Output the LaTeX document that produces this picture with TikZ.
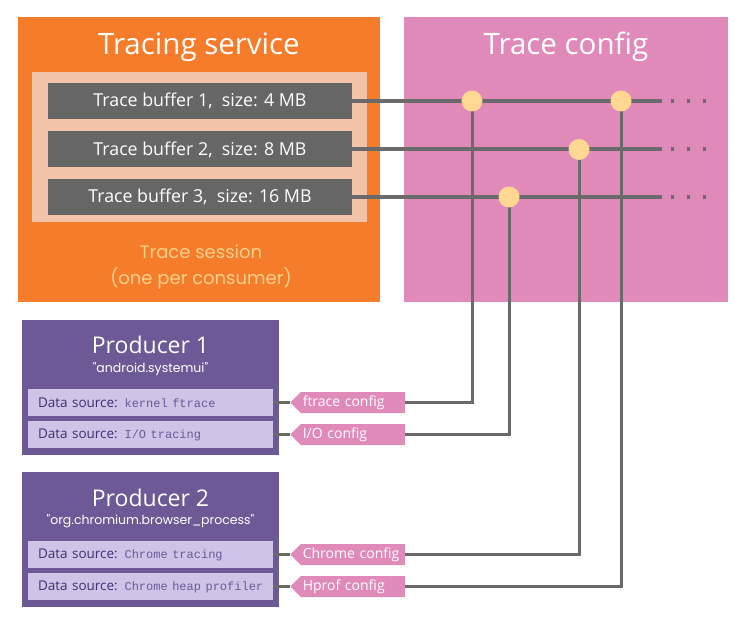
\documentclass[tikz,border=0pt]{standalone}
\usepackage{fontspec}
\setmainfont{Open Sans}
\setmonofont{Liberation Mono}
\newfontfamily\handfont{Poppins}
\usetikzlibrary{shapes.symbols,positioning}

\definecolor{serviceorange}{HTML}{F47C2B}
\definecolor{sessionpeach}{HTML}{F2C3A8}
\definecolor{sessionink}{HTML}{FDD08B}
\definecolor{buffergray}{HTML}{666666}
\definecolor{configpink}{HTML}{E08AB9}
\definecolor{knotgold}{HTML}{FED893}
\definecolor{producerpurple}{HTML}{6C5996}
\definecolor{sourcelilac}{HTML}{D0C3E8}
\definecolor{sourceink}{HTML}{3D3170}
\definecolor{wiregray}{HTML}{6A6A6A}

\newcommand{\srccode}[1]{\texttt{\fontsize{12}{14}\selectfont\color{producerpurple}#1}}

\begin{document}
\begin{tikzpicture}[x=1pt,y=-1pt,
    panel/.style={rectangle,inner sep=0},
    heading/.style={text=white,font=\fontsize{29.5}{32}\selectfont},
    buffer/.style={rectangle,fill=buffergray,text=white,minimum width=304,minimum height=36,
      font=\fontsize{17.8}{20}\selectfont},
    source/.style={rectangle,fill=sourcelilac,text=sourceink,minimum height=27,text width=225,
      inner xsep=10,align=left,font=\fontsize{13.5}{16}\selectfont},
    tag/.style={signal,signal to=west,signal pointer angle=90,fill=configpink,text=white,
      minimum height=21,text width=100,inner xsep=2,inner ysep=0,align=left,anchor=west,
      font=\fontsize{14}{16}\selectfont},
    knot/.style={circle,fill=knotgold,minimum size=21,inner sep=0},
    wire/.style={draw=wiregray,line width=4},
    link/.style={draw=wiregray,line width=3},
    trail/.style={draw=wiregray,line width=4,dash pattern=on 3 off 13},
    hand/.style={font=\handfont\fontsize{12.5}{15}\selectfont,text=white}]
  \useasboundingbox (0,0) rectangle (739,623);

  % tracing service
  \node[panel,fill=serviceorange,minimum width=362,minimum height=285] (service) at (199,159.5) {};
  \node[heading] (servicetitle) at (199,47) {Tracing service};
  \node[panel,fill=sessionpeach,minimum width=335,minimum height=150] (session) at (199.5,147) {};
  \node[buffer] (buf1) at (200,101) {Trace buffer 1,\ \ size: 4 MB};
  \node[buffer] (buf2) at (200,149.5) {Trace buffer 2,\ \ size: 8 MB};
  \node[buffer] (buf3) at (200,197) {Trace buffer 3,\ \ size: 16 MB};
  \node[text=sessionink,font=\handfont\fontsize{18}{26}\selectfont,align=center] (sessionlabel)
    at (201,267) {Trace session\\(one per consumer)};

  % trace config
  \node[panel,fill=configpink,minimum width=324,minimum height=285] (config) at (566,159.5) {};
  \node[heading] (configtitle) at (566,47) {Trace config};

  % producers
  \node[panel,fill=producerpurple,minimum width=257,minimum height=135] (prod1) at (150.5,387.5) {};
  \node[heading,font=\fontsize{23}{28}\selectfont] (prod1title) at (150.5,345) {Producer 1};
  \node[hand] (prod1name) at (150.5,369) {"android.systemui"};
  \node[source] (src1) at (150.5,402.5) {\mbox{Data source: \srccode{kernel ftrace}}};
  \node[source] (src2) at (150.5,434.5) {\mbox{Data source: \srccode{I/O tracing}}};

  \node[panel,fill=producerpurple,minimum width=257,minimum height=135] (prod2) at (150.5,539.5) {};
  \node[heading,font=\fontsize{23}{28}\selectfont] (prod2title) at (150.5,498) {Producer 2};
  \node[hand] (prod2name) at (150.5,521) {"org.chromium.browser\_process"};
  \node[source] (src3) at (150.5,554.5) {\mbox{Data source: \srccode{Chrome tracing}}};
  \node[source] (src4) at (150.5,586.5) {\mbox{Data source: \srccode{Chrome heap profiler}}};

  % config tags
  \node[tag] (ftracetag) at (290,402.5) {ftrace config};
  \node[tag] (iotag) at (290,434.5) {I/O config};
  \node[tag] (chrometag) at (290,554.5) {Chrome config};
  \node[tag] (hproftag) at (290,586.5) {Hprof config};

  \draw[link] (src1.east) -- (ftracetag.west);
  \draw[link] (src2.east) -- (iotag.west);
  \draw[link] (src3.east) -- (chrometag.west);
  \draw[link] (src4.east) -- (hproftag.west);

  % wires out of the buffers
  \coordinate (end1) at (662,101);
  \coordinate (end2) at (662,149.5);
  \coordinate (end3) at (662,197);
  \draw[wire] (buf1.east) -- (end1);
  \draw[wire] (buf2.east) -- (end2);
  \draw[wire] (buf3.east) -- (end3);
  \draw[trail] ([xshift=8.5]end1) -- ([xshift=45]end1);
  \draw[trail] ([xshift=8.5]end2) -- ([xshift=45]end2);
  \draw[trail] ([xshift=8.5]end3) -- ([xshift=45]end3);

  \coordinate (j1) at (472,101);
  \coordinate (j2) at (621,101);
  \coordinate (j3) at (579,149.5);
  \coordinate (j4) at (509,197);
  \draw[link] (j1) |- (ftracetag.east);
  \draw[link] (j4) |- (iotag.east);
  \draw[link] (j3) |- (chrometag.east);
  \draw[link] (j2) |- (hproftag.east);

  \node[knot] (knot1) at (j1) {};
  \node[knot] (knot2) at (j2) {};
  \node[knot] (knot3) at (j3) {};
  \node[knot] (knot4) at (j4) {};
\end{tikzpicture}
\end{document}
